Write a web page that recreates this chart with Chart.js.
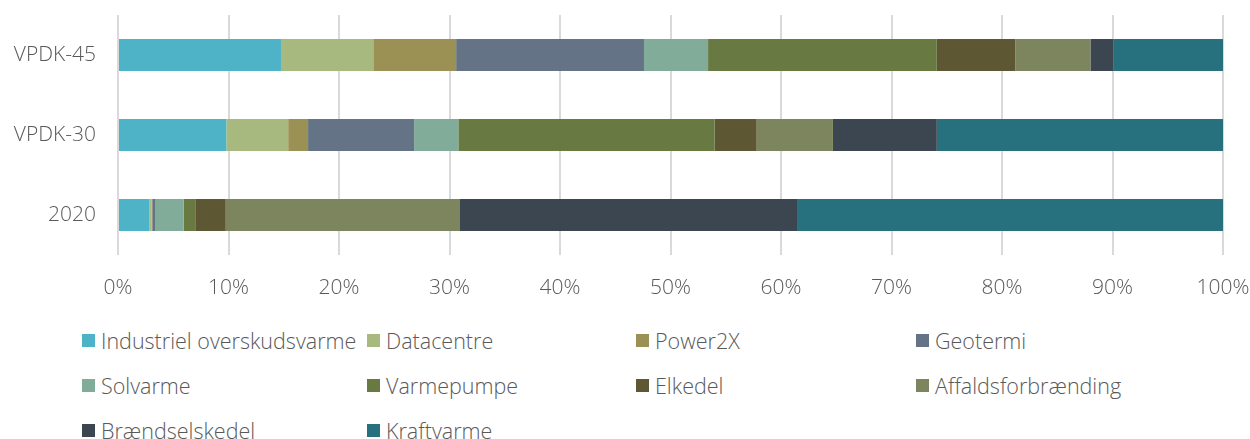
<!DOCTYPE html>
<html>
<head>
<meta charset="utf-8">
<script src="https://cdn.jsdelivr.net/npm/chart.js@4"></script>
<style>
  body { margin: 0; background: #fff; font-family: "Open Sans", sans-serif; }
  #wrap { width: 1250px; height: 439px; position: relative; overflow: hidden; }
  #legend { position: absolute; left: 82px; top: 318px; display: grid;
    grid-template-columns: 285px 269px 280px 280px; grid-auto-rows: 45px; }
  .item { display: flex; align-items: center; color: #595959; font-size: 21.5px; font-weight: 300; white-space: nowrap; }
  .box { width: 13px; height: 13px; margin-right: 6px; flex: none; }
</style>
</head>
<body>
<div id="wrap">
  <canvas id="chart" width="1250" height="310"></canvas>
  <div id="legend"></div>
</div>
<script>
const categories = ['VPDK-45', 'VPDK-30', '2020'];
const serier = ['Industriel overskudsvarme', 'Datacentre', 'Power2X', 'Geotermi', 'Solvarme',
  'Varmepumpe', 'Elkedel', 'Affaldsforbrænding', 'Brændselskedel', 'Kraftvarme'];
// andel i procent, en række pr. kategori
const vpdk45 = [14.75, 8.35, 7.5, 17.0, 5.8, 20.7, 7.1, 6.8, 2.1, 9.9];
const vpdk30 = [9.8, 5.6, 1.8, 9.6, 4.0, 23.2, 3.8, 6.9, 9.4, 25.9];
const aar2020 = [2.85, 0.2, 0.05, 0.25, 2.6, 1.1, 2.7, 21.2, 30.5, 38.55];
const farver = ['#4FB3C8', '#A8B97F', '#9C9155', '#647486', '#82AC9A',
  '#687A41', '#5D5833', '#7C855E', '#3C4651', '#27717F'];

const datasets = serier.map((navn, i) => ({
  label: navn,
  data: [vpdk45[i], vpdk30[i], aar2020[i]],
  backgroundColor: farver[i],
  borderWidth: 0,
  barPercentage: 0.8,
  categoryPercentage: 0.5
}));

const tickFont = { family: 'Open Sans', size: 21, weight: 300 };

const ctx = document.getElementById('chart').getContext('2d');
new Chart(ctx, {
  type: 'bar',
  data: { labels: categories, datasets },
  options: {
    indexAxis: 'y',
    responsive: false,
    animation: false,
    layout: { padding: 0 },
    plugins: { legend: { display: false }, tooltip: { enabled: false } },
    scales: {
      x: {
        stacked: true,
        min: 0, max: 100,
        ticks: { stepSize: 10, callback: v => v + '%', color: '#595959', padding: 20, font: tickFont },
        grid: { color: '#D9D9D9', lineWidth: 2, drawTicks: false },
        border: { display: false },
        afterFit: s => {
          s.height = 55;
          s.paddingLeft = 0; s.paddingRight = 27;
          s.paddingTop = 0; s.paddingBottom = 0;
        }
      },
      y: {
        stacked: true,
        ticks: { color: '#595959', padding: 22, font: tickFont },
        grid: { display: false, drawTicks: false },
        border: { display: false },
        afterFit: s => {
          s.width = 118;
          s.paddingTop = 15; s.paddingBottom = 0;
          s.paddingLeft = 0; s.paddingRight = 0;
        }
      }
    }
  }
});

const legend = document.getElementById('legend');
serier.forEach((navn, i) => {
  const el = document.createElement('div');
  el.className = 'item';
  el.innerHTML = '<span class="box" style="background:' + farver[i] + '"></span>' + navn;
  legend.appendChild(el);
});
</script>
</body>
</html>
